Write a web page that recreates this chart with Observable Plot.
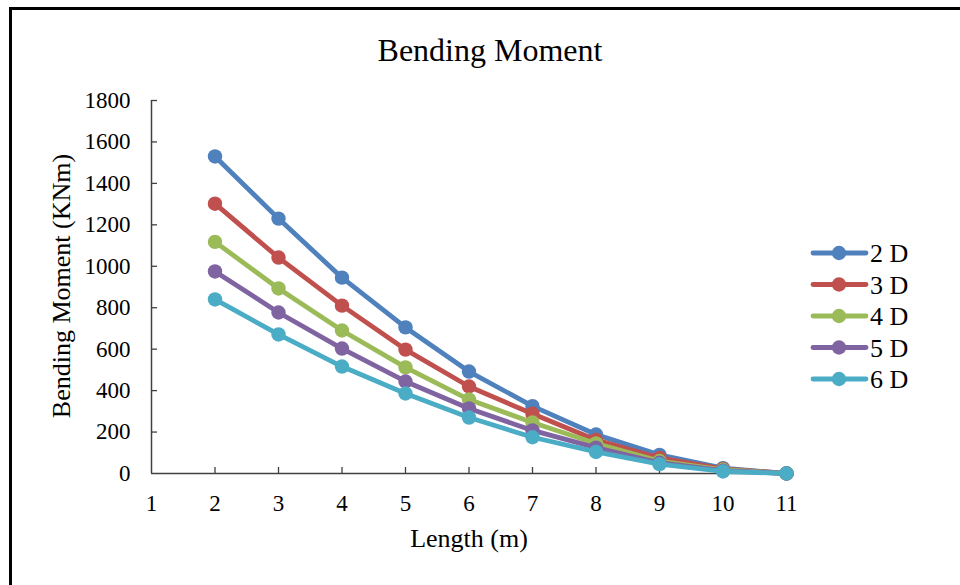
<!DOCTYPE html>
<html>
<head>
<meta charset="utf-8">
<script src="https://cdn.jsdelivr.net/npm/d3@7"></script>
<script src="https://cdn.jsdelivr.net/npm/@observablehq/plot@0.6"></script>
<style>
  html, body { margin: 0; padding: 0; background: #fff; }
  #wrap { position: relative; width: 960px; height: 585px; overflow: hidden; font-family: "Liberation Serif", "Times New Roman", serif; color: #000; }
  #frame { position: absolute; left: 9px; top: 7px; width: 1000px; height: 700px; border-left: 3px solid #000; border-top: 3px solid #000; box-sizing: border-box; }
  #chart { position: absolute; left: 0; top: 0; }
  .txt { position: absolute; white-space: nowrap; }
  #title { left: 0; width: 980px; top: 34px; text-align: center; font-size: 32px; line-height: 32px; }
  #xlabel { left: 0; width: 938px; top: 526px; text-align: center; font-size: 26px; line-height: 26px; }
  #ylabel { left: 62px; top: 286px; font-size: 26px; line-height: 26px; transform: translate(-50%, -50%) rotate(-90deg); }
  #legend { position: absolute; left: 0; top: 0; }
</style>
</head>
<body>
<div id="wrap">
  <div id="frame"></div>
  <div id="chart"></div>
  <div class="txt" id="title">Bending Moment</div>
  <div class="txt" id="xlabel">Length (m)</div>
  <div class="txt" id="ylabel">Bending Moment (KNm)</div>
  <svg id="legend" width="960" height="585"></svg>
</div>
<script>
// ---- data ----
const lengths = [2, 3, 4, 5, 6, 7, 8, 9, 10, 11];
const seriesNames = ["2 D", "3 D", "4 D", "5 D", "6 D"];
const moment2D = [1530, 1230, 945, 705, 492, 325, 188, 90, 26, 0];
const moment3D = [1302, 1042, 810, 598, 420, 288, 162, 75, 22, 0];
const moment4D = [1118, 893, 690, 512, 357, 246, 145, 60, 18, 0];
const moment5D = [975, 777, 603, 444, 314, 208, 125, 52, 14, 0];
const moment6D = [840, 671, 516, 386, 270, 175, 104, 45, 10, 0];
const xTicks = [1, 2, 3, 4, 5, 6, 7, 8, 9, 10, 11];
const yTicks = [0, 200, 400, 600, 800, 1000, 1200, 1400, 1600, 1800];
const colors = ["#4F81BD", "#C0504D", "#9BBB59", "#8064A2", "#4BACC6"];

const allSeries = [moment2D, moment3D, moment4D, moment5D, moment6D];
const rows = [];
seriesNames.forEach((s, i) => {
  lengths.forEach((x, j) => rows.push({series: s, length: x, moment: allSeries[i][j]}));
});

const marginLeft = 151, marginRight = 174, marginTop = 100, marginBottom = 112;
const W = 960, H = 585;
const innerW = W - marginLeft - marginRight;
const innerH = H - marginTop - marginBottom;

const seriesMarks = [];
seriesNames.forEach((s, i) => {
  const d = rows.filter(r => r.series === s);
  seriesMarks.push(Plot.line(d, {x: "length", y: "moment", stroke: colors[i], strokeWidth: 4.8, strokeLinejoin: "round", strokeLinecap: "round"}));
  seriesMarks.push(Plot.dot(d, {x: "length", y: "moment", fill: colors[i], r: 7.2, stroke: "none"}));
});

const chart = Plot.plot({
  width: W, height: H,
  marginLeft, marginRight, marginTop, marginBottom,
  style: {fontFamily: "'Liberation Serif', 'Times New Roman', serif", fontSize: "23px", color: "#000", background: "transparent", overflow: "visible"},
  x: {domain: [1, 11]},
  y: {domain: [0, 1800]},
  marks: [
    Plot.axisX({ticks: xTicks, tickSize: 0, tickPadding: 21, label: null, fill: "#000", tickFormat: d3.format("d")}),
    Plot.axisY({ticks: yTicks, tickSize: 0, tickPadding: 21, label: null, fill: "#000", tickFormat: d3.format("d")}),
    Plot.tickX(xTicks.slice(1), {x: d => d, stroke: "#404040", strokeWidth: 1.3, insetTop: innerH - 6}),
    Plot.tickY(yTicks.slice(1), {y: d => d, stroke: "#404040", strokeWidth: 1.3, insetRight: innerW - 6}),
    Plot.ruleY([0], {stroke: "#404040", strokeWidth: 1.5}),
    Plot.ruleX([1], {stroke: "#404040", strokeWidth: 1.5}),
    ...seriesMarks
  ]
});
document.getElementById("chart").appendChild(chart);

// ---- legend ----
const leg = d3.select("#legend");
seriesNames.forEach((s, i) => {
  const cy = 253 + i * 31.5;
  const g = leg.append("g");
  g.append("line").attr("x1", 813).attr("x2", 866).attr("y1", cy).attr("y2", cy)
    .attr("stroke", colors[i]).attr("stroke-width", 4.8).attr("stroke-linecap", "round");
  g.append("circle").attr("cx", 839).attr("cy", cy).attr("r", 7.2).attr("fill", colors[i]);
  g.append("text").attr("x", 870).attr("y", cy + 9).text(s)
    .attr("font-family", "'Liberation Serif', 'Times New Roman', serif").attr("font-size", 26).attr("fill", "#000");
});
</script>
</body>
</html>
